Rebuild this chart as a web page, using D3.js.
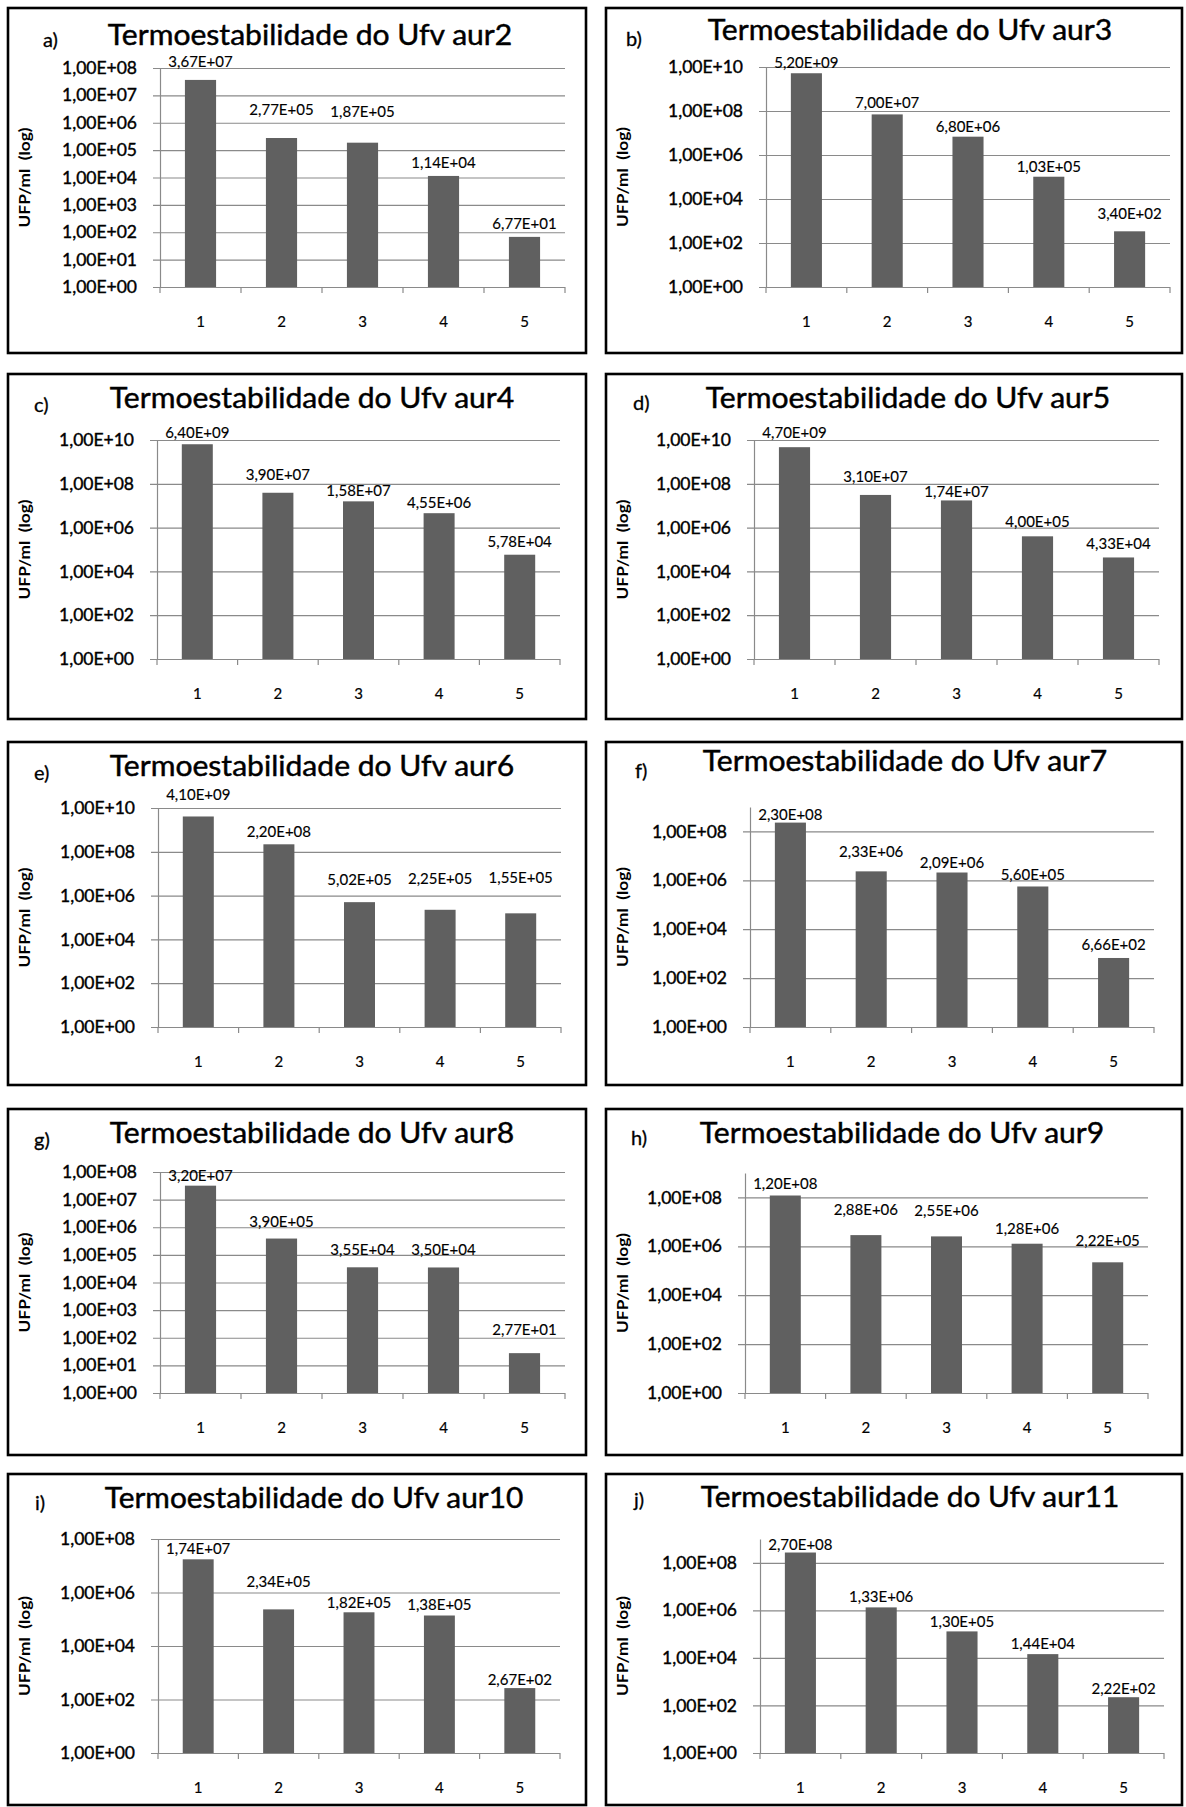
<!DOCTYPE html>
<html>
<head>
<meta charset="utf-8">
<script src="https://d3js.org/d3.v7.min.js"></script>
<style>
    body { margin: 0; background: #fff; }
    text { font-family: Lato, "Open Sans", sans-serif; fill: #000; }
</style>
</head>
<body>
<svg id="chartArea" width="1186" height="1807"></svg>
<script>
    // values, one array per panel
    const categories = ["1", "2", "3", "4", "5"];
    const letters = ["a)", "b)", "c)", "d)", "e)", "f)", "g)", "h)", "i)", "j)"];
    const strains = ["aur2", "aur3", "aur4", "aur5", "aur6", "aur7", "aur8", "aur9", "aur10", "aur11"];

    const aur2 = [3.67e7, 2.77e5, 1.87e5, 1.14e4, 6.77e1];
    const aur3 = [5.20e9, 7.00e7, 6.80e6, 1.03e5, 3.40e2];
    const aur4 = [6.40e9, 3.90e7, 1.58e7, 4.55e6, 5.78e4];
    const aur5 = [4.70e9, 3.10e7, 1.74e7, 4.00e5, 4.33e4];
    const aur6 = [4.10e9, 2.20e8, 5.02e5, 2.25e5, 1.55e5];
    const aur7 = [2.30e8, 2.33e6, 2.09e6, 5.60e5, 6.66e2];
    const aur8 = [3.20e7, 3.90e5, 3.55e4, 3.50e4, 2.77e1];
    const aur9 = [1.20e8, 2.88e6, 2.55e6, 1.28e6, 2.22e5];
    const aur10 = [1.74e7, 2.34e5, 1.82e5, 1.38e5, 2.67e2];
    const aur11 = [2.70e8, 1.33e6, 1.30e5, 1.44e4, 2.22e2];
    const series = [aur2, aur3, aur4, aur5, aur6, aur7, aur8, aur9, aur10, aur11];

    // y axis: top of the log scale and spacing of the labelled decades
    const axisMax = [1e8, 1e10, 1e10, 1e10, 1e10, 1e9, 1e8, 1e9, 1e8, 1e9];
    const tickStep = [1, 2, 2, 2, 2, 2, 1, 2, 2, 2];

    // page layout of each framed panel
    const layout = [
        { box: [8, 8, 578, 345],     plot: [160, 565, 68, 287],     title: [310, 45],   letter: [43, 47] },
        { box: [606, 8, 576, 345],   plot: [766, 1170, 67, 287],    title: [910, 40],   letter: [626, 46] },
        { box: [8, 374, 578, 345],   plot: [157, 560, 440, 659],    title: [312, 408],  letter: [34, 412] },
        { box: [606, 374, 576, 345], plot: [754, 1159, 440, 659],   title: [908, 408],  letter: [633, 410] },
        { box: [8, 742, 578, 343],   plot: [158, 561, 808, 1027],   title: [312, 776],  letter: [34, 780] },
        { box: [606, 742, 576, 343], plot: [750, 1154, 807, 1027],  title: [905, 771],  letter: [635, 778] },
        { box: [8, 1109, 578, 346],  plot: [160, 565, 1172, 1393],  title: [312, 1143], letter: [34, 1147] },
        { box: [606, 1109, 576, 346],plot: [745, 1148, 1173, 1393], title: [902, 1143], letter: [631, 1145] },
        { box: [8, 1474, 578, 331],  plot: [158, 560, 1539, 1753],  title: [314, 1508], letter: [35, 1510] },
        { box: [606, 1474, 576, 331],plot: [760, 1164, 1539, 1753], title: [910, 1507], letter: [634, 1507] }
    ];
    // distance (px) between a bar top and its value label baseline
    const labelLift = [
        [13, 23, 26, 8, 8],
        [5, 6, 5, 5, 12],
        [6, 13, 5, 5, 8],
        [9, 13, 3, 9, 8],
        [16, 7, 17, 26, 30],
        [3, 14, 5, 6, 8],
        [5, 12, 12, 12, 18],
        [7, 20, 20, 10, 16],
        [5, 22, 4, 6, 3],
        [3, 5, 4, 5, 3]
    ];

    const barColor = "#606060";
    const gridColor = "#8a8a8a";

    const expLabel = v => {
        const [m, e] = v.toExponential(2).split("e");
        const n = Math.abs(+e);
        return m.replace(".", ",") + "E" + (+e < 0 ? "-" : "+") + String(n).padStart(2, "0");
    };

    const svg = d3.select("#chartArea");

    series.forEach((values, i) => {
        const L = layout[i];
        const [left, right, top, bottom] = L.plot;
        const g = svg.append("g");

        g.append("rect")
            .attr("x", L.box[0]).attr("y", L.box[1])
            .attr("width", L.box[2]).attr("height", L.box[3])
            .attr("fill", "none").attr("stroke", "#000").attr("stroke-width", 2.6);

        g.append("text")
            .attr("x", L.letter[0]).attr("y", L.letter[1])
            .attr("font-size", 20)
            .attr("stroke", "#000").attr("stroke-width", 0.3)
            .text(letters[i]);

        const title = "Termoestabilidade do Ufv " + strains[i];
        g.append("text")
            .attr("x", L.title[0]).attr("y", L.title[1])
            .attr("text-anchor", "middle")
            .attr("font-size", 28)
            .attr("stroke", "#000").attr("stroke-width", 0.45)
            .attr("textLength", title.length * 13.95)
            .attr("lengthAdjust", "spacingAndGlyphs")
            .text(title);

        const x = d3.scaleBand()
            .domain(categories)
            .range([left, right])
            .paddingInner(1.6 / 2.6)
            .paddingOuter(0.8 / 2.6);

        const y = d3.scaleLog()
            .domain([1, axisMax[i]])
            .range([bottom, top]);

        const topExp = Math.floor(Math.log10(axisMax[i]));
        const tickVals = d3.range(0, topExp + 1, tickStep[i]).map(k => Math.pow(10, k));

        // y axis with gridlines running across the plot
        const yAxis = g.append("g")
            .attr("transform", `translate(${left},0)`)
            .call(d3.axisLeft(y)
                .tickValues(tickVals)
                .tickFormat(expLabel)
                .tickSize(-(right - left))
                .tickSizeOuter(0)
                .tickPadding(23));
        yAxis.select(".domain").attr("stroke", gridColor).attr("stroke-width", 1.2);
        yAxis.selectAll(".tick line")
            .attr("x1", -7)
            .attr("stroke", gridColor).attr("stroke-width", 1.2);
        yAxis.selectAll(".tick text")
            .attr("font-family", "Lato, sans-serif")
            .attr("font-size", 17.5)
            .attr("stroke", "#000").attr("stroke-width", 0.4)
            .attr("fill", "#000");

        // x axis: labels under each category, small marks on the category borders
        const xAxis = g.append("g")
            .attr("transform", `translate(0,${bottom})`)
            .call(d3.axisBottom(x).tickSize(0).tickPadding(29));
        xAxis.select(".domain").remove();
        xAxis.selectAll(".tick text")
            .attr("font-family", "Lato, sans-serif")
            .attr("font-size", 15)
            .attr("stroke", "#000").attr("stroke-width", 0.2)
            .attr("fill", "#000");

        g.selectAll("line.xtick")
            .data(d3.range(categories.length + 1))
            .join("line")
            .attr("class", "xtick")
            .attr("x1", k => left + k * x.step())
            .attr("x2", k => left + k * x.step())
            .attr("y1", bottom)
            .attr("y2", bottom + 6)
            .attr("stroke", gridColor).attr("stroke-width", 1.2);

        g.selectAll("rect.bar")
            .data(values)
            .join("rect")
            .attr("class", "bar")
            .attr("x", (d, k) => x(categories[k]))
            .attr("width", x.bandwidth())
            .attr("y", d => y(d))
            .attr("height", d => bottom - y(d))
            .attr("fill", barColor);

        g.selectAll("text.value")
            .data(values)
            .join("text")
            .attr("class", "value")
            .attr("x", (d, k) => x(categories[k]) + x.bandwidth() / 2)
            .attr("y", (d, k) => y(d) - labelLift[i][k])
            .attr("text-anchor", "middle")
            .attr("font-size", 15)
            .attr("stroke", "#000").attr("stroke-width", 0.15)
            .text(expLabel);

        g.append("text")
            .attr("transform", `translate(${L.box[0] + 22},${(top + bottom) / 2}) rotate(-90)`)
            .attr("text-anchor", "middle")
            .attr("font-size", 16)
            .attr("font-weight", "bold")
            .attr("textLength", 100)
            .attr("lengthAdjust", "spacingAndGlyphs")
            .style("white-space", "pre")
            .text("UFP/ml  (log)");
    });
</script>
</body>
</html>
